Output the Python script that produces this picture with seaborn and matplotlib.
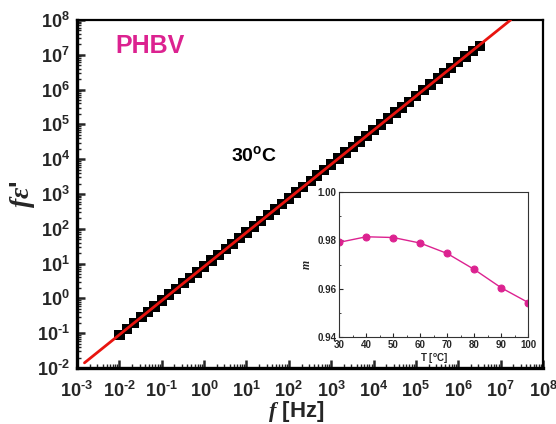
import numpy as np
import pandas as pd
import matplotlib.pyplot as plt
import matplotlib.ticker as mticker
import seaborn as sns

# measured points (f in Hz, f*eps')
freq = [1e-2, 1.5e-2, 2.2e-2, 3.3e-2, 4.7e-2, 6.8e-2,
        1e-1, 1.5e-1, 2.2e-1, 3.3e-1, 4.7e-1, 6.8e-1,
        1e0, 1.5e0, 2.2e0, 3.3e0, 4.7e0, 6.8e0,
        1e1, 1.5e1, 2.2e1, 3.3e1, 4.7e1, 6.8e1,
        1e2, 1.5e2, 2.2e2, 3.3e2, 4.7e2, 6.8e2,
        1e3, 1.5e3, 2.2e3, 3.3e3, 4.7e3, 6.8e3,
        1e4, 1.5e4, 2.2e4, 3.3e4, 4.7e4, 6.8e4,
        1e5, 1.5e5, 2.2e5, 3.3e5, 4.7e5, 6.8e5,
        1e6, 1.5e6, 2.2e6, 3.3e6]
f_eps = [0.0904, 0.134, 0.196, 0.291, 0.411, 0.590,
         0.861, 1.28, 1.86, 2.77, 3.92, 5.62,
         8.20, 12.2, 17.8, 26.4, 37.3, 53.6,
         78.1, 116, 169, 251, 356, 510,
         744, 1110, 1610, 2400, 3390, 4860,
         7090, 10500, 15400, 22800, 32300, 46300,
         67600, 1.00e5, 1.46e5, 2.17e5, 3.07e5, 4.41e5,
         6.44e5, 9.57e5, 1.39e6, 2.07e6, 2.93e6, 4.20e6,
         6.1e6, 9.0e6, 1.3e7, 1.8e7]

# power-law fit line end points
fit_f = [1.5e-3, 1.73e7]
fit_y = [0.0141, 1.0e8]

# inset: exponent m vs temperature
temp = [30, 40, 50, 60, 70, 80, 90, 100]
m_vals = [0.9792, 0.9815, 0.9812, 0.9789, 0.9746, 0.9680, 0.9604, 0.9543]

magenta = '#DC2290'

sns.set_theme(style='ticks')
plt.rcParams['font.family'] = ['Liberation Sans', 'DejaVu Sans']
plt.rcParams['mathtext.fontset'] = 'custom'
plt.rcParams['mathtext.rm'] = 'Liberation Sans:bold'
plt.rcParams['mathtext.bf'] = 'Liberation Sans:bold'
plt.rcParams['mathtext.it'] = 'Liberation Serif:italic:bold'
plt.rcParams['mathtext.default'] = 'bf'

fig = plt.figure(figsize=(5.56, 4.24), dpi=100)
ax = fig.add_axes([0.1385, 0.132, 0.838, 0.821])

pts = pd.DataFrame({'f': freq, 'fe': f_eps})
sns.scatterplot(data=pts, x='f', y='fe', marker='s', s=56, color='black',
                edgecolor='none', linewidth=0, ax=ax, zorder=2)
fit = pd.DataFrame({'f': fit_f, 'fe': fit_y})
sns.lineplot(data=fit, x='f', y='fe', color='#E8140F', lw=2.0, ax=ax, zorder=3)

ax.set_xscale('log')
ax.set_yscale('log')
ax.set_xlim(1e-3, 1e8)
ax.set_ylim(1e-2, 1e8)

def fmt(v, pos):
    e = int(round(np.log10(v)))
    if e < 0:
        return r'$\mathbf{10^{\text{-}%d}}$' % (-e)
    return r'$\mathbf{10^{%d}}$' % e

ax.xaxis.set_major_locator(mticker.LogLocator(base=10, numticks=20))
ax.yaxis.set_major_locator(mticker.LogLocator(base=10, numticks=20))
ax.xaxis.set_minor_locator(mticker.LogLocator(base=10, subs=np.arange(2, 10), numticks=20))
ax.yaxis.set_minor_locator(mticker.LogLocator(base=10, subs=np.arange(2, 10), numticks=20))
ax.xaxis.set_minor_formatter(mticker.NullFormatter())
ax.yaxis.set_minor_formatter(mticker.NullFormatter())
ax.xaxis.set_major_formatter(mticker.FuncFormatter(fmt))
ax.yaxis.set_major_formatter(mticker.FuncFormatter(fmt))
ax.tick_params(which='major', direction='in', length=6, width=1.8, labelsize=13,
               top=False, right=False, pad=5)
ax.tick_params(axis='x', which='major', pad=9)
ax.tick_params(which='minor', direction='in', length=3, width=1.0, top=False, right=False)
for s in ax.spines.values():
    s.set_linewidth(1.6)
    s.set_color('black')
ax.spines['left'].set_linewidth(2.4)
ax.spines['bottom'].set_linewidth(2.4)

ax.set_xlabel(r'$\mathit{f}$ [Hz]', fontsize=16, fontweight='bold')
ax.xaxis.set_label_coords(0.47, -0.09)
ax.set_ylabel(r"$\mathit{f\varepsilon}$'", fontsize=20, fontweight='bold')
ax.yaxis.set_label_coords(-0.086, 0.5)

ax.text(0.082, 0.925, 'PHBV', transform=ax.transAxes, color=magenta,
        fontsize=18, fontweight='bold', ha='left', va='center')
ax.text(0.33, 0.612, r'30$\mathbf{^{o}}$C', transform=ax.transAxes, color='black',
        fontsize=14, fontweight='bold', ha='left', va='center')

# inset
ins = fig.add_axes([0.610, 0.205, 0.340, 0.342])
ins_df = pd.DataFrame({'T': temp, 'm': m_vals})
sns.lineplot(data=ins_df, x='T', y='m', color=magenta, lw=1.0, marker='o',
             markersize=5, markeredgecolor=magenta, ax=ins)
ins.set_xlim(30, 100)
ins.set_ylim(0.94, 1.00)
ins.set_xticks(range(30, 101, 10))
ins.set_yticks([0.94, 0.96, 0.98, 1.00])
ins.yaxis.set_major_formatter(mticker.FormatStrFormatter('%.2f'))
ins.xaxis.set_minor_locator(mticker.MultipleLocator(5))
ins.yaxis.set_minor_locator(mticker.MultipleLocator(0.01))
ins.tick_params(which='major', direction='in', length=3, width=0.8, labelsize=7,
                top=False, right=False, pad=2)
ins.tick_params(which='minor', direction='in', length=1.5, width=0.6, top=False, right=False)
for lab in ins.get_xticklabels() + ins.get_yticklabels():
    lab.set_fontweight('bold')
for s in ins.spines.values():
    s.set_linewidth(0.8)
    s.set_color('#333333')
ins.set_xlabel(r'T [$\mathbf{^{o}}$C]', fontsize=7, fontweight='bold', labelpad=1)
ins.set_ylabel(r'$\mathit{m}$', fontsize=8.5, labelpad=3)

fig.savefig('out.png', dpi=100)
